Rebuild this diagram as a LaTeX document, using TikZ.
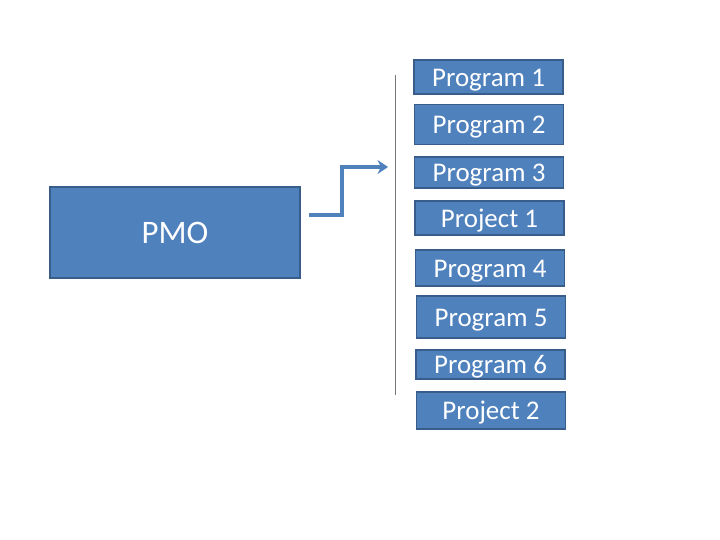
\documentclass[tikz,border=0pt]{standalone}
\usepackage{fontspec}
\setmainfont{Carlito}
\usetikzlibrary{arrows.meta,positioning}
\definecolor{officeBlue}{RGB}{79,129,189}
\definecolor{officeEdge}{RGB}{56,93,138}
\definecolor{railGrey}{RGB}{120,120,120}
\tikzset{
  progbox/.style={draw=officeEdge,fill=officeBlue,line width=1.2pt,text=white,inner sep=0pt,
    minimum width=4.47cm,text height=19pt,text depth=3pt,font=\fontsize{23}{25}\selectfont},
  flowline/.style={draw=officeBlue,line width=3pt,-{Stealth[length=9pt,width=12pt]}}
}

\begin{document}
\begin{tikzpicture}[x=0.03cm,y=-0.03cm]
\path[use as bounding box] (0,0) rectangle (720,540);
\node[draw=officeEdge,fill=officeBlue,line width=1.2pt,text=white,minimum width=7.5cm,minimum height=2.73cm,
  font=\fontsize{28}{30}\selectfont] (pmo) at (175,232.5) {PMO};

\node[progbox,minimum height=1.02cm] (prog1) at (488.5,77) {Program 1};
\node[progbox,minimum height=1.20cm] (prog2) at (489,124.5) {Program 2};
\node[progbox,minimum height=0.93cm] (prog3) at (489,172.5) {Program 3};
\node[progbox,minimum height=1.02cm] (proj1) at (489.5,218) {Project 1};
\node[progbox,minimum height=1.08cm] (prog4) at (490,268) {Program 4};
\node[progbox,minimum height=1.26cm] (prog5) at (491,317) {Program 5};
\node[progbox,minimum height=0.87cm] (prog6) at (490.5,364.5) {Program 6};
\node[progbox,minimum height=1.11cm] (proj2) at (491,410.5) {Project 2};

% rail left of the list
\coordinate (railtop) at (395,75);
\coordinate (railbottom) at (395,395);
\draw[railGrey,line width=0.8pt] (railtop) -- (railbottom);

% arrow out of the PMO
\coordinate (flowstart) at (309,215);
\coordinate (flowend) at (388,167);
\draw[flowline] (flowstart) -- ++(33,0) |- (flowend);
\end{tikzpicture}
\end{document}
